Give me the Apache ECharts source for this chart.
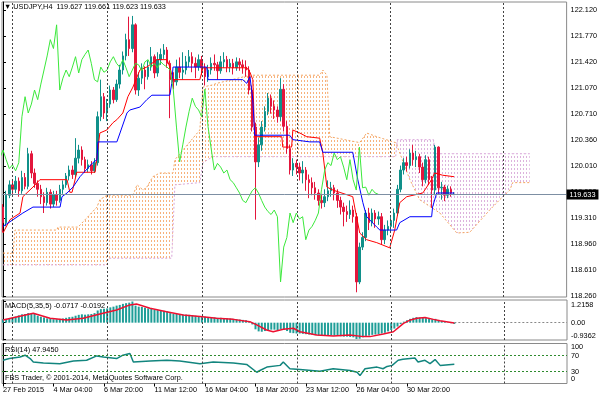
<!DOCTYPE html>
<html>
<head>
<meta charset="utf-8">
<title>USDJPY H4</title>
<style>
  html, body { margin: 0; padding: 0; background: #fff; }
  #main { width: 600px; height: 398px; }
</style>
</head>
<body>
<div id="main"></div>
<script src="https://cdn.jsdelivr.net/npm/echarts@6/dist/echarts.min.js"></script>
<script>
// time labels, one every 16 H4 bars
var dateLabels = ['27 Feb 2015', '4 Mar 04:00', '6 Mar 20:00', '11 Mar 12:00', '16 Mar 04:00',
                  '18 Mar 20:00', '23 Mar 12:00', '26 Mar 04:00', '30 Mar 20:00'];
var priceTicks = ['118.260', '118.610', '118.960', '119.310', '119.660', '120.010',
                  '120.360', '120.710', '121.070', '121.420', '121.770', '122.120'];
var macdTicks = ['-0.9362', '0.00', '1.2158'];
var rsiTicks = ['0', '30', '70', '100'];
// dotted grid lines (bar index)
var vGrid = [2.85, 32.97, 63.07, 93.16, 122.9, 158.7];

var opens = [119.46,119.25,119.62,119.76,119.70,119.81,119.68,119.86,119.74,120.18,
  119.92,119.78,119.70,119.60,119.52,119.66,119.50,119.63,119.55,119.70,
  119.76,119.88,119.96,119.90,120.12,120.23,120.10,119.98,120.03,119.95,
  120.06,120.68,120.95,120.73,120.85,121.04,120.91,121.12,121.31,121.50,
  121.72,121.60,121.92,121.04,121.20,121.31,121.22,121.35,121.49,121.27,
  121.45,121.52,121.58,121.40,121.18,121.15,121.35,121.28,121.31,121.42,
  121.49,121.40,121.35,121.45,121.34,121.22,121.31,121.40,121.38,121.30,
  121.42,121.45,121.35,121.40,121.34,121.42,121.38,121.35,121.31,121.04,
  120.54,120.07,120.30,120.54,120.75,120.93,120.82,120.77,120.68,121.05,
  120.55,120.25,119.96,120.05,120.00,119.92,119.96,119.83,119.79,119.72,
  119.65,119.55,119.52,119.60,119.68,119.72,119.65,119.55,119.46,119.40,
  119.36,119.42,119.33,118.45,118.92,119.05,119.38,119.25,119.38,119.30,
  119.33,119.02,119.15,119.20,119.28,119.38,119.70,119.96,120.06,120.02,
  120.19,120.10,120.14,120.00,119.83,120.10,119.83,119.69,120.27,119.72,
  119.73,119.62,119.70,119.627];
var closes = [119.25,119.62,119.76,119.70,119.81,119.68,119.86,119.74,120.18,119.92,
  119.78,119.70,119.60,119.52,119.66,119.50,119.63,119.55,119.70,119.76,
  119.88,119.96,119.90,120.12,120.23,120.10,119.98,120.03,119.95,120.06,
  120.68,120.95,120.73,120.85,121.04,120.91,121.12,121.31,121.50,121.72,
  121.60,121.92,121.04,121.20,121.31,121.22,121.35,121.49,121.27,121.45,
  121.52,121.58,121.40,121.18,121.15,121.35,121.28,121.31,121.42,121.49,
  121.40,121.35,121.45,121.34,121.22,121.31,121.40,121.38,121.30,121.42,
  121.45,121.35,121.40,121.34,121.42,121.38,121.35,121.31,121.04,120.54,
  120.07,120.30,120.54,120.75,120.93,120.82,120.77,120.68,121.05,120.55,
  120.25,119.96,120.05,120.00,119.92,119.96,119.83,119.79,119.72,119.65,
  119.55,119.52,119.60,119.68,119.72,119.65,119.55,119.46,119.40,119.36,
  119.42,119.33,118.45,118.92,119.05,119.38,119.25,119.38,119.30,119.33,
  119.02,119.15,119.20,119.28,119.38,119.70,119.96,120.06,120.02,120.19,
  120.10,120.14,120.00,119.83,120.10,119.83,119.69,120.27,119.72,119.73,
  119.62,119.70,119.65,119.633];
var lows = [119.12,119.20,119.58,119.62,119.65,119.60,119.64,119.70,119.70,119.85,
  119.72,119.60,119.50,119.38,119.48,119.44,119.46,119.48,119.52,119.64,
  119.72,119.82,119.84,119.86,120.05,120.02,119.92,119.93,119.90,119.92,
  120.02,120.62,120.65,120.62,120.80,120.86,120.88,121.06,121.25,121.44,
  121.50,121.55,120.98,120.96,121.12,121.05,121.18,121.30,121.20,121.22,
  121.38,121.46,121.34,120.66,121.05,121.10,121.20,121.18,121.25,121.35,
  121.28,121.20,121.30,121.24,121.10,121.15,121.25,121.30,121.18,121.26,
  121.34,121.28,121.28,121.25,121.30,121.30,121.26,121.22,120.98,120.48,
  119.29,120.00,120.22,120.48,120.70,120.72,120.65,120.60,120.62,120.48,
  120.18,119.90,119.88,119.90,119.82,119.78,119.68,119.58,119.62,119.56,
  119.48,119.44,119.46,119.54,119.60,119.55,119.45,119.36,119.20,119.26,
  119.30,119.25,118.31,118.42,118.88,119.00,119.15,119.20,119.18,119.22,
  118.95,118.96,119.08,119.12,119.18,119.34,119.66,119.90,119.94,119.98,
  120.02,120.00,119.92,119.74,119.78,119.76,119.45,119.62,119.64,119.56,
  119.54,119.58,119.60,119.623];
var highs = [119.50,119.68,119.82,119.84,119.88,119.86,119.95,119.92,120.26,120.22,
  119.98,119.82,119.76,119.66,119.72,119.70,119.68,119.68,119.76,119.82,
  119.92,120.02,120.02,120.39,120.30,120.28,120.14,120.10,120.08,120.12,
  120.75,121.18,121.00,120.92,121.10,121.08,121.18,121.38,121.56,121.80,
  122.03,122.04,121.94,121.28,121.40,121.36,121.44,121.62,121.52,121.55,
  121.60,121.66,121.62,121.44,121.28,121.45,121.48,121.55,121.50,121.58,
  121.55,121.48,121.52,121.50,121.40,121.38,121.48,121.52,121.42,121.50,
  121.55,121.50,121.46,121.46,121.48,121.47,121.45,121.44,121.36,121.10,
  120.60,120.40,120.62,120.82,121.00,120.98,120.90,120.82,121.20,121.12,
  120.62,120.30,120.12,120.10,120.06,120.08,120.00,119.90,119.86,119.80,
  119.70,119.64,119.70,119.82,119.80,119.76,119.70,119.60,119.52,119.48,
  119.55,119.48,119.38,118.98,119.12,119.42,119.45,119.44,119.42,119.40,
  119.38,119.22,119.28,119.34,119.44,119.76,120.02,120.12,120.14,120.24,
  120.30,120.22,120.18,120.06,120.16,120.14,119.88,120.30,120.28,119.80,
  119.76,119.75,119.74,119.661];

// Ichimoku lines, [bar index, price]
var tenkan = [[0,119.11],[2.2,119.29],[5.4,119.38],[6.3,119.60],[9.5,119.73],[11.7,119.83],[20.3,119.83],
  [21.2,119.66],[21.9,119.66],[23.4,119.93],[29.2,119.93],[30.7,120.46],[32.9,120.50],[34.9,120.60],
  [36.1,120.64],[38,120.73],[39.6,120.95],[41.2,121.08],[43.4,121.31],[45.6,121.35],[48.8,121.45],
  [52,121.45],[52.9,121.35],[53.9,121.18],[62.4,121.18],[63.4,121.34],[77.3,121.34],[78.3,121.28],
  [79.2,121.18],[79.8,120.41],[88.4,120.41],[88.7,120.27],[91.5,120.27],[91.9,120.50],[94.1,120.46],
  [96.3,120.41],[100.4,120.39],[101.4,120.19],[102.7,119.73],[104.6,119.69],[110.9,119.60],
  [111.5,119.46],[113.1,119.11],[115.3,119.02],[118.5,118.98],[122.6,118.91],[124.2,119.15],
  [125.8,119.52],[128,119.60],[133.1,119.65],[135.9,119.83],[136.8,119.92],[139.4,119.89],[143,119.87]];
var kijun = [[0,119.20],[3.2,119.29],[6.3,119.38],[9.5,119.46],[18.1,119.46],[18.7,119.60],[20.3,119.65],
  [22.2,119.73],[24.4,119.87],[28.5,120.06],[29.8,120.10],[30.1,120.34],[36.1,120.34],[37.1,120.46],
  [39.3,120.73],[40.2,120.77],[43.4,120.81],[45.6,120.91],[47.2,120.97],[52.9,120.97],[53.5,121.13],
  [53.9,121.35],[64.6,121.35],[65,121.18],[76,121.18],[77.3,121.13],[78.3,121.22],[79.2,120.91],
  [79.8,120.43],[90.9,120.43],[91.9,120.37],[97.3,120.34],[100.4,120.34],[101.4,120.20],[110.9,120.20],
  [112.5,119.83],[114.1,119.52],[115.3,119.33],[118.5,119.19],[119.5,119.15],[124.8,119.15],
  [125.8,119.25],[129,119.33],[135.9,119.33],[136.2,119.46],[137.5,119.65],[143,119.65]];
var spanA = [[0,118.84],[3.2,118.84],[3.8,119.15],[17.1,119.15],[17.4,119.19],[23.8,119.19],[29.8,119.46],
  [30.7,119.56],[33,119.62],[41.2,119.62],[42.5,119.76],[44.4,119.69],[45.6,119.73],[47.5,119.87],
  [49.7,119.92],[53.9,119.92],[54.5,120.10],[62.4,120.50],[63.4,121.08],[66.5,121.11],[67.8,121.13],
  [78.3,121.24],[100.4,121.24],[101.4,121.31],[102.7,121.24],[103.6,120.41],[113.1,120.33],
  [115.3,120.46],[118.5,120.41],[124.5,120.33],[125,120.28],[129,119.83],[132.1,119.56],[138.5,119.38],
  [143.9,119.11],[148,119.12],[154.3,119.42],[157.5,119.56],[160.7,119.69],[161.6,119.79],[167,119.79]];
var spanB = [[0,118.68],[33,118.68],[33.3,118.77],[53.5,118.77],[54.5,119.76],[62.4,119.79],[63.4,120.06],
  [66.5,120.14],[124.5,120.14],[125,120.37],[136.5,120.37],[137,120.18],[167,120.18]];
var chikouShift = 24;

var macdHist = [0.20,0.22,0.25,0.28,0.35,0.42,0.48,0.50,0.55,0.52,
  0.50,0.40,0.34,0.30,0.25,0.22,0.20,0.20,0.22,0.24,
  0.28,0.32,0.34,0.40,0.45,0.48,0.46,0.48,0.50,0.55,
  0.70,0.78,0.80,0.82,0.88,0.92,0.98,1.02,1.08,1.12,
  1.15,1.2158,0.98,0.92,0.90,0.86,0.82,0.80,0.74,0.72,
  0.70,0.68,0.66,0.55,0.50,0.50,0.48,0.47,0.46,0.45,
  0.42,0.40,0.38,0.37,0.34,0.32,0.32,0.30,0.28,0.28,
  0.27,0.25,0.24,0.22,0.20,0.18,0.16,0.14,0.08,-0.10,
  -0.38,-0.50,-0.52,-0.48,-0.42,-0.40,-0.40,-0.42,-0.36,-0.40,
  -0.48,-0.58,-0.60,-0.62,-0.62,-0.64,-0.66,-0.68,-0.70,-0.72,
  -0.74,-0.76,-0.75,-0.72,-0.72,-0.74,-0.76,-0.78,-0.80,-0.80,
  -0.82,-0.84,-0.9362,-0.92,-0.84,-0.76,-0.74,-0.70,-0.68,-0.66,
  -0.62,-0.58,-0.50,-0.42,-0.34,-0.22,-0.08,0.06,0.14,0.22,
  0.28,0.32,0.30,0.30,0.26,0.22,0.20,0.22,0.14,0.10,
  0.06,0.02,-0.03,-0.0717];
var macdSignal = [[0,0.16],[9.6,0.54],[14.9,0.25],[20.2,0.16],[25.4,0.25],[30.7,0.50],[36,0.73],[40.2,1.02],
  [42.3,1.07],[46.6,0.83],[51.8,0.63],[57.1,0.44],[62.4,0.35],[67.7,0.25],[73,0.19],[78.2,0.06],
  [80.4,-0.13],[83.5,-0.42],[85.6,-0.52],[88.8,-0.38],[92,-0.32],[94.1,-0.52],[99.4,-0.71],[104.7,-0.77],
  [109.9,-0.71],[114.2,-0.80],[116.3,-0.80],[120.5,-0.65],[123.7,-0.52],[126.9,-0.04],[129.1,0.16],
  [131.2,0.25],[133.7,0.30],[136.4,0.19],[138.5,0.11],[143,-0.0192]];
var rsi = [[0,58.0],[2,62.4],[5.4,66.4],[7,70.8],[8.6,62.4],[9.6,53.7],[12.8,51.1],[18,49.6],[22.3,56.2],
  [26.5,58.0],[29.7,69.0],[31.8,66.4],[36,62.4],[38,70.8],[40.2,75.1],[41.3,53.7],[46.6,56.2],[51.9,58.0],
  [56,56.2],[62.4,49.6],[66.6,53.7],[73,51.1],[77.2,47.8],[80.4,28.2],[81.4,32.5],[83.6,41.0],[87.8,45.3],
  [88.8,53.7],[90.9,36.9],[94.1,35.1],[100.4,30.8],[104.6,36.9],[110,32.5],[112.2,28.2],[113.1,19.8],
  [114.7,36.9],[118.5,41.0],[120.4,36.9],[121.7,42.7],[123.3,45.3],[125.2,58.0],[126.7,60.6],[130.5,63.9],
  [131.5,53.7],[133.7,58.0],[135.3,49.6],[136.9,59.8],[138.5,45.3],[143,47.945]];

var FONT = 'Liberation Sans';
var FS = 7.3;
var xMin = -0.317, xMax = 178.7;

// MT4 draws the kumo as columns of short dashes
function dashes(color) {
  var c = document.createElement('canvas');
  c.width = 3; c.height = 4;
  var g = c.getContext('2d');
  g.fillStyle = color;
  g.fillRect(1, 0, 1, 2);
  return { image: c, repeat: 'repeat' };
}
var bullCloud = {
  top: spanA.filter(function (p) { return p[0] <= 124.5; }),
  bottom: spanB.filter(function (p) { return p[0] <= 124.5; }),
  fill: dashes('#f7b27c')
};
var bearCloud = {
  top: spanB.filter(function (p) { return p[0] >= 125; }),
  bottom: spanA.filter(function (p) { return p[0] >= 125; }),
  fill: dashes('#ddb2dd')
};

function vLines() {
  return vGrid.map(function (v) {
    return { xAxis: v, lineStyle: { color: '#444', type: [2, 2], width: 1 } };
  });
}
function pick(list, v) {
  for (var k = 0; k < list.length; k++) {
    if (Math.abs(Number(list[k]) - v) < 1e-6) return list[k];
  }
  return '';
}

var chart = echarts.init(document.getElementById('main'));
var gridBox = { show: true, borderColor: '#8a8a8a', borderWidth: 1, backgroundColor: '#fff' };
var labelFont = { fontFamily: FONT, fontSize: FS, color: '#000' };

var option = {
  animation: false,
  backgroundColor: '#fff',
  textStyle: { fontFamily: FONT },
  title: [
    { text: '\u25BC USDJPY,H4  119.627 119.661 119.623 119.633', left: 4, top: 3, padding: 0,
      textStyle: { fontFamily: FONT, fontSize: FS, fontWeight: 'normal', color: '#000' } },
    { text: 'MACD(5,35,5) -0.0717 -0.0192', left: 5, top: 302.5, padding: 0,
      textStyle: { fontFamily: FONT, fontSize: FS, fontWeight: 'normal', color: '#000' } },
    { text: 'RSI(14) 47.9450', left: 5, top: 346, padding: 0,
      textStyle: { fontFamily: FONT, fontSize: FS, fontWeight: 'normal', color: '#000' } },
    { text: 'FBS Trader, \u00A9 2001-2014, MetaQuotes Software Corp.', left: 5, top: 374, padding: 0,
      textStyle: { fontFamily: FONT, fontSize: FS, fontWeight: 'normal', color: '#000' } }
  ],
  grid: [
    Object.assign({ left: 2, width: 565, top: 2, height: 295 }, gridBox),
    Object.assign({ left: 2, width: 565, top: 300, height: 40 }, gridBox),
    Object.assign({ left: 2, width: 565, top: 343.5, height: 40 }, gridBox)
  ],
  xAxis: [
    { gridIndex: 0, type: 'value', min: xMin, max: xMax, show: false },
    { gridIndex: 1, type: 'value', min: xMin, max: xMax, show: false },
    { gridIndex: 2, type: 'value', min: xMin, max: xMax,
      axisLine: { show: false },
      splitLine: { show: false },
      axisTick: { show: true, length: 3, lineStyle: { color: '#000' },
        customValues: dateLabels.map(function (d, k) { return k * 16; }) },
      axisLabel: Object.assign({ margin: 3, align: 'left',
        customValues: dateLabels.map(function (d, k) { return k * 16; }),
        formatter: function (v) { return dateLabels[Math.round(v / 16)] || ''; } }, labelFont) }
  ],
  yAxis: [
    { gridIndex: 0, type: 'value', position: 'right', min: 118.2465, max: 122.228, scale: true,
      axisLine: { show: true, lineStyle: { color: '#000' } },
      splitLine: { show: false },
      axisTick: { show: true, length: 3, lineStyle: { color: '#000' }, customValues: priceTicks.map(Number) },
      axisLabel: Object.assign({ margin: 4, customValues: priceTicks.map(Number),
        formatter: function (v) { return pick(priceTicks, v); } }, labelFont) },
    { gridIndex: 1, type: 'value', position: 'right', min: -0.994, max: 1.302,
      axisLine: { show: true, lineStyle: { color: '#000' } },
      splitLine: { show: false },
      axisTick: { show: true, length: 3, lineStyle: { color: '#000' }, customValues: macdTicks.map(Number) },
      axisLabel: Object.assign({ margin: 4, customValues: macdTicks.map(Number),
        formatter: function (v) {
          var t = pick(macdTicks, v);
          if (v > 0.5) return '{hi|' + t + '}';
          if (v < -0.5) return '{lo|' + t + '}';
          return t;
        },
        rich: { hi: { padding: [6, 0, 0, 0], fontSize: FS, fontFamily: FONT },
                lo: { padding: [0, 0, 6, 0], fontSize: FS, fontFamily: FONT } } }, labelFont) },
    { gridIndex: 2, type: 'value', position: 'right', min: 0, max: 100,
      axisLine: { show: true, lineStyle: { color: '#000' } },
      splitLine: { show: false },
      axisTick: { show: true, length: 3, lineStyle: { color: '#000' }, customValues: rsiTicks.map(Number) },
      axisLabel: Object.assign({ margin: 4, customValues: rsiTicks.map(Number),
        formatter: function (v) {
          var t = pick(rsiTicks, v);
          if (v > 90) return '{hi|' + t + '}';
          if (v < 10) return '{lo|' + t + '}';
          return t;
        },
        rich: { hi: { padding: [7, 0, 0, 0], fontSize: FS, fontFamily: FONT },
                lo: { padding: [0, 0, 9, 0], fontSize: FS, fontFamily: FONT } } }, labelFont) }
  ],
  series: [
    { // Kumo hatch
      type: 'custom', xAxisIndex: 0, yAxisIndex: 0, z: 1, silent: true,
      data: [[0, 120], [1, 120]],
      renderItem: function (params, api) {
        var part = params.dataIndex === 0 ? bullCloud : bearCloud;
        var pts = part.top.map(function (p) { return api.coord(p); })
          .concat(part.bottom.slice().reverse().map(function (p) { return api.coord(p); }));
        return { type: 'polygon', shape: { points: pts }, style: { fill: part.fill, stroke: null } };
      }
    },
    { type: 'line', name: 'Senkou A', xAxisIndex: 0, yAxisIndex: 0, data: spanA, showSymbol: false, z: 2,
      lineStyle: { color: '#f4a460', width: 1, type: [2, 2] } },
    { type: 'line', name: 'Senkou B', xAxisIndex: 0, yAxisIndex: 0, data: spanB, showSymbol: false, z: 2,
      lineStyle: { color: '#d9a6d9', width: 1, type: [2, 2] } },
    { type: 'candlestick', xAxisIndex: 0, yAxisIndex: 0, z: 3, barWidth: 2,
      encode: { x: 0, y: [1, 2, 3, 4] },
      data: closes.map(function (c, i) { return [i, opens[i], c, lows[i], highs[i]]; }),
      itemStyle: { color: '#10908a', color0: '#e3163c', borderColor: '#10908a', borderColor0: '#e3163c', borderWidth: 1 },
      markLine: {
        silent: true, symbol: 'none', animation: false,
        data: [{ yAxis: closes[closes.length - 1],
          lineStyle: { color: '#7d8fa3', type: 'solid', width: 1 },
          label: { show: true, position: 'end', distance: 0, formatter: closes[closes.length - 1].toFixed(3),
            backgroundColor: '#000', color: '#fff', padding: [2, 3, 1, 3], fontFamily: FONT, fontSize: FS } }]
      }
    },
    { type: 'line', name: 'Tenkan', xAxisIndex: 0, yAxisIndex: 0, data: tenkan, showSymbol: false, z: 4,
      lineStyle: { color: '#ff0000', width: 1 } },
    { type: 'line', name: 'Kijun', xAxisIndex: 0, yAxisIndex: 0, data: kijun, showSymbol: false, z: 4,
      lineStyle: { color: '#0000ff', width: 1 } },
    { type: 'line', name: 'Chikou', xAxisIndex: 0, yAxisIndex: 0, z: 4, showSymbol: false,
      data: closes.map(function (c, i) { return [i - chikouShift, c]; }),
      lineStyle: { color: '#3be83b', width: 1 },
      markLine: { silent: true, symbol: 'none', label: { show: false }, data: vLines() } },

    { type: 'bar', name: 'MACD', xAxisIndex: 1, yAxisIndex: 1, barWidth: 2, z: 2,
      data: macdHist.map(function (v, i) { return [i, v]; }),
      itemStyle: { color: '#1f9e98' },
      markLine: { silent: true, symbol: 'none', label: { show: false }, data: vLines() } },
    { type: 'line', name: 'Signal', xAxisIndex: 1, yAxisIndex: 1, data: macdSignal, showSymbol: false, z: 3,
      lineStyle: { color: '#ee1030', width: 1.5 },
      markLine: { silent: true, symbol: 'none', label: { show: false },
        data: [[{ coord: [macdHist.length - 1, 0] }, { coord: [xMax, 0] }]],
        lineStyle: { color: '#888', type: [2, 2], width: 1 } } },

    { type: 'line', name: 'RSI', xAxisIndex: 2, yAxisIndex: 2, data: rsi, showSymbol: false, z: 3,
      lineStyle: { color: '#12857e', width: 1.5 },
      markLine: { silent: true, symbol: 'none', label: { show: false },
        data: vLines().concat([
          { yAxis: 30, lineStyle: { color: '#2e8b2e', type: [2, 2], width: 1 } },
          { yAxis: 70, lineStyle: { color: '#2e8b2e', type: [2, 2], width: 1 } }
        ]) } }
  ]
};
chart.setOption(option);
</script>
</body>
</html>
